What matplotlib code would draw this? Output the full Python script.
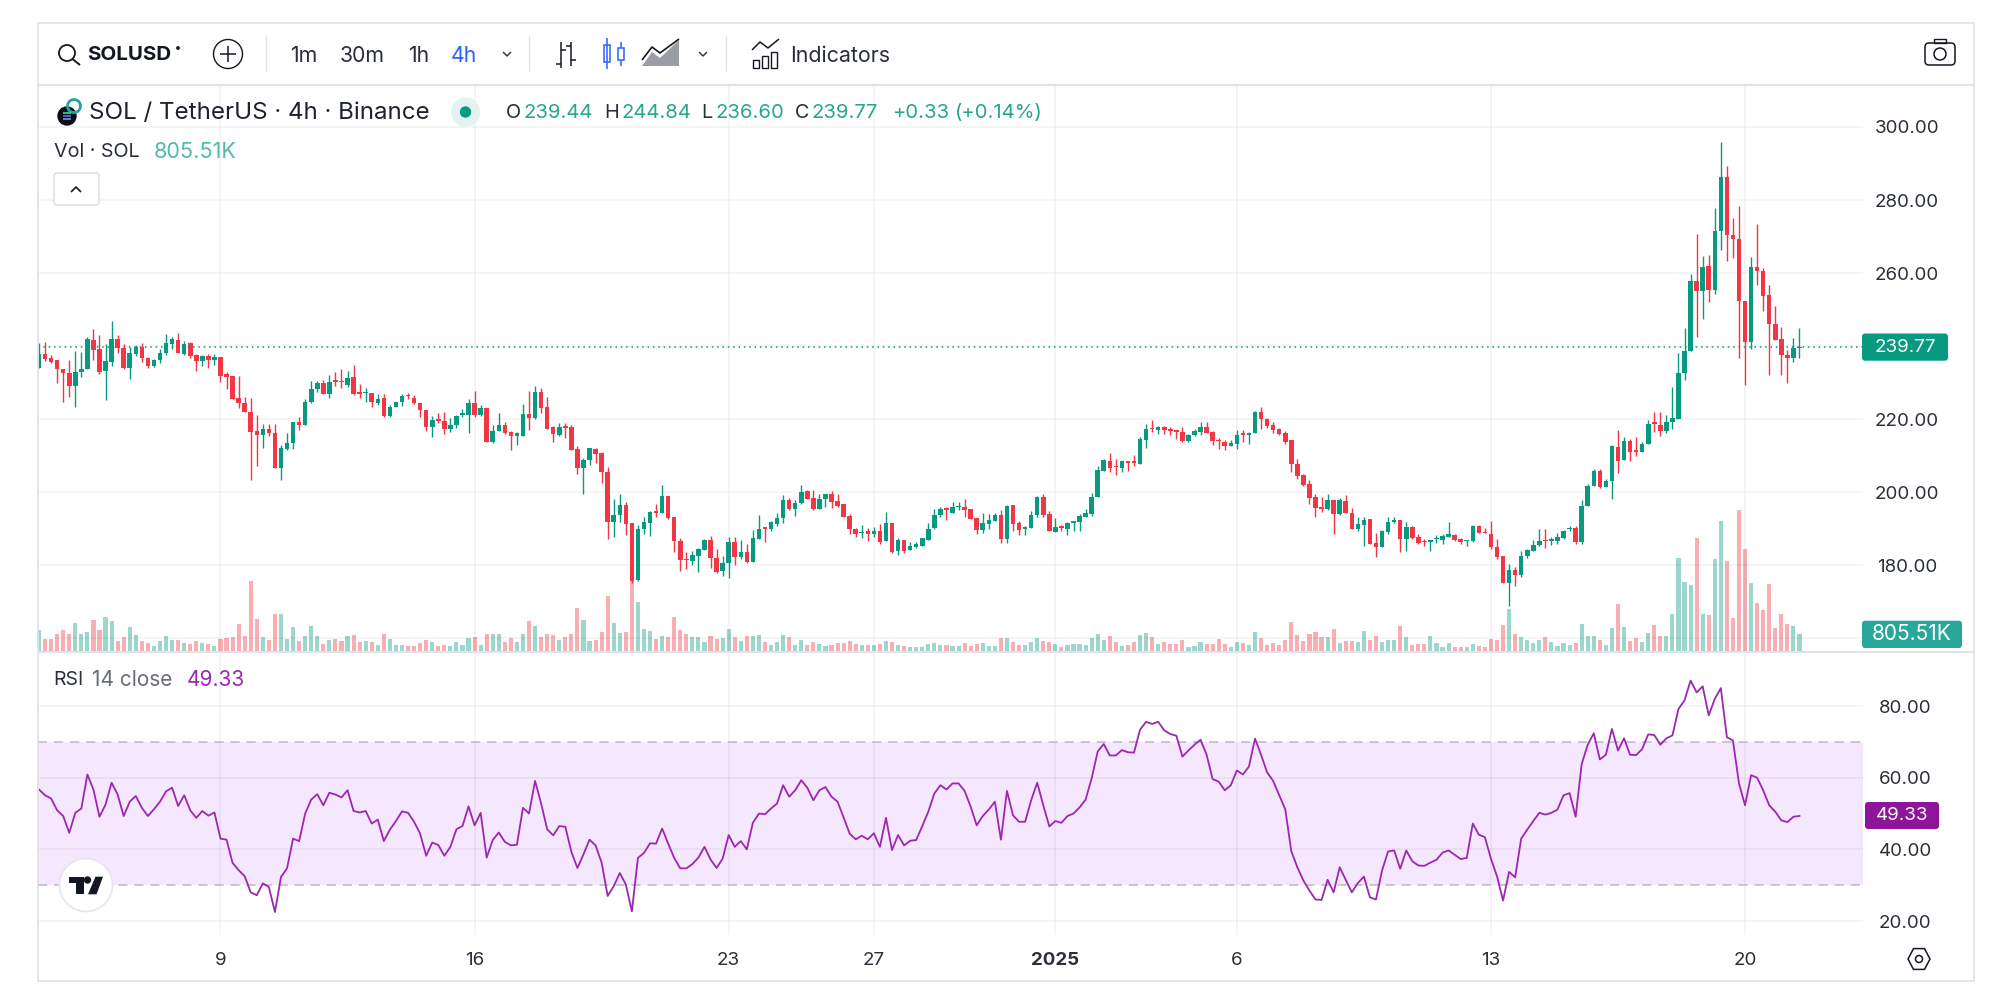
import numpy as np
import matplotlib
matplotlib.use("Agg")
import matplotlib.pyplot as plt
from matplotlib.patches import Circle, FancyBboxPatch, Polygon, Rectangle

plt.rcParams['font.family'] = ['Inter', 'DejaVu Sans']

# 4h candles, oldest first
opens = [
    233.9,237.7,236.7,236.1,233.8,232.7,229.0,232.8,233.7,241.6,
    239.1,233.1,235.7,241.8,239.5,233.9,237.8,239.8,236.8,234.6,
    236.2,238.2,240.5,241.6,237.8,240.7,237.5,235.9,237.4,236.3,
    237.1,232.3,231.7,225.8,224.4,221.9,216.7,215.7,217.4,216.3,
    206.5,211.8,213.5,219.3,218.4,224.7,228.1,229.8,227.0,230.6,
    230.4,229.4,231.4,227.4,227.1,227.2,224.4,225.7,220.9,223.4,
    224.8,226.6,225.8,224.4,222.6,217.9,219.9,219.5,217.2,218.4,
    221.0,221.1,224.3,221.1,223.1,213.8,216.8,218.5,216.4,215.4,
    215.4,221.5,220.3,227.5,223.4,217.7,215.6,218.2,217.9,211.7,
    206.5,208.8,211.8,210.6,205.5,191.8,193.7,196.4,191.5,175.9,
    189.8,191.6,194.8,194.2,198.9,193.1,186.7,181.8,181.2,182.6,
    184.2,186.9,182.0,178.3,180.6,186.3,182.1,183.7,180.8,187.2,
    190.4,189.9,191.3,192.8,197.8,195.3,196.9,200.3,198.3,195.5,
    198.1,199.4,197.5,196.7,193.5,189.9,188.7,189.3,188.5,189.3,
    186.7,191.4,183.9,187.0,184.1,184.9,185.2,187.0,190.1,193.7,
    195.6,194.4,195.8,196.0,195.3,192.8,189.6,191.2,192.1,193.7,
    187.1,196.4,191.4,190.0,190.1,193.6,198.6,193.9,189.2,190.7,
    190.0,191.4,191.8,193.2,193.9,198.6,205.9,208.6,207.1,206.6,
    208.5,208.5,207.8,214.4,217.6,217.0,217.9,217.2,217.0,216.5,
    214.0,215.5,216.5,217.9,216.5,214.4,213.7,212.7,213.3,216.3,
    215.6,216.1,221.8,220.0,218.4,217.4,216.1,214.2,207.7,204.8,
    202.2,198.6,196.0,195.3,197.8,193.9,197.6,194.4,189.8,191.0,
    192.5,186.0,185.0,189.2,191.9,192.3,187.1,190.5,187.7,186.7,
    186.4,187.1,186.8,187.8,188.2,187.2,186.5,186.6,190.7,189.1,
    188.6,185.0,182.4,175.1,178.7,177.2,182.4,184.0,185.4,187.0,
    186.7,186.6,187.3,189.8,190.1,186.4,196.2,201.7,205.9,201.5,
    202.9,212.4,208.7,214.1,211.4,211.0,213.2,219.1,218.4,216.7,
    219.2,220.1,232.6,238.6,257.7,255.0,261.8,255.3,271.5,286.2,
    270.3,269.2,252.4,241.2,261.7,260.5,253.9,246.1,242.0,237.6,236.7,239.44,
]
closes = [
    237.7,236.4,235.6,233.7,232.6,229.0,232.9,233.7,241.8,238.9,
    232.9,235.8,241.9,239.4,233.9,238.0,239.8,236.7,234.6,236.3,
    238.2,240.7,241.8,238.0,240.5,237.4,235.9,237.4,236.3,237.0,
    231.7,231.6,225.6,224.3,221.8,216.5,215.7,217.4,216.1,206.5,
    212.1,213.5,219.3,218.3,224.8,228.3,229.8,227.0,230.2,230.2,
    230.1,231.3,226.9,227.0,227.5,224.7,225.6,220.8,223.3,224.7,
    226.3,226.2,224.3,222.4,217.7,219.8,219.5,217.2,218.4,220.8,
    221.6,224.4,221.1,223.1,213.8,216.8,218.4,216.1,215.3,216.1,
    221.5,220.4,227.5,223.1,217.3,216.0,217.9,217.5,211.5,206.5,
    208.9,212.0,210.4,205.4,191.8,193.7,196.4,191.2,175.7,189.9,
    191.7,194.5,194.3,198.9,192.8,186.5,181.4,181.4,182.7,184.4,
    186.9,181.9,178.2,180.6,186.3,182.1,183.6,180.8,187.5,190.0,
    190.0,191.7,193.0,197.8,195.3,197.1,200.0,198.1,195.4,198.1,
    199.4,197.4,196.3,193.2,189.8,188.5,189.1,188.4,189.4,186.3,
    191.4,183.7,187.0,183.9,185.2,185.7,187.3,190.0,193.8,195.5,
    195.1,196.0,196.3,195.1,192.6,189.6,191.4,192.3,193.7,187.1,
    196.3,191.3,189.7,190.5,193.8,198.6,193.6,189.3,190.5,190.3,
    191.6,192.0,193.4,194.4,198.7,206.0,208.8,206.5,206.8,208.4,
    208.1,207.9,214.6,217.4,217.2,217.9,217.0,216.7,216.5,214.0,
    215.6,216.7,217.9,216.3,213.9,214.0,212.6,213.4,215.6,215.5,
    216.2,221.8,219.9,218.1,217.0,215.8,213.7,207.7,204.4,201.9,
    198.5,195.7,195.5,197.8,194.1,197.8,194.2,190.0,191.3,192.4,
    185.9,185.0,189.3,191.9,192.3,187.1,190.4,187.3,186.1,186.2,
    186.8,187.5,187.9,188.4,187.0,186.2,186.9,190.8,188.9,188.9,
    184.9,182.3,175.1,178.7,177.3,182.6,184.1,185.5,186.6,186.6,
    187.2,187.6,189.4,190.2,186.4,196.2,201.7,205.8,201.5,202.9,
    212.6,208.6,214.1,210.9,210.9,213.3,218.7,218.7,216.8,219.3,
    220.2,232.6,238.6,257.7,255.0,261.7,255.3,271.5,286.2,270.3,
    269.2,252.3,241.2,261.7,260.5,253.7,246.1,241.7,237.5,236.7,239.5,239.77,
]
highs = [
    240.7,241.0,237.5,236.1,233.8,236.2,238.6,238.3,242.4,244.7,
    243.0,240.5,246.9,243.0,240.5,239.8,240.2,240.7,236.9,236.5,
    239.2,243.3,242.6,243.7,241.5,241.1,237.7,237.5,237.8,237.7,
    237.1,232.9,231.7,231.8,226.1,225.7,221.0,218.6,218.6,218.6,
    212.8,216.3,219.3,220.5,225.5,230.3,230.5,230.7,232.1,233.0,
    233.6,233.2,234.7,229.6,228.5,227.2,227.0,226.8,223.8,224.8,
    227.0,227.2,226.7,224.5,222.6,220.8,221.7,221.9,220.2,221.2,
    222.7,225.5,227.8,223.9,223.1,218.3,221.6,219.2,216.7,216.4,
    224.0,227.7,229.0,228.6,226.1,218.2,219.0,219.0,218.4,212.6,
    209.2,212.1,212.0,211.0,206.9,198.2,199.6,197.3,191.5,191.0,
    193.2,194.9,196.6,201.9,198.9,193.2,187.5,183.7,183.9,184.8,
    187.1,188.0,184.3,182.5,187.6,187.8,186.9,185.7,189.6,193.6,
    190.4,192.1,194.2,199.2,198.5,197.8,201.9,200.7,200.7,199.5,
    199.6,200.2,199.6,196.7,194.0,190.2,191.0,190.2,190.5,191.2,
    194.5,191.4,187.5,187.0,186.3,186.4,187.5,191.4,195.5,196.0,
    195.9,197.4,197.4,198.0,195.5,192.8,194.4,193.9,194.2,195.0,
    196.5,196.5,192.1,190.7,194.9,198.9,199.4,194.9,192.8,190.9,
    191.9,192.2,193.9,195.4,199.8,207.1,209.1,210.6,209.1,208.6,
    208.5,210.2,215.2,218.6,219.7,218.1,218.1,217.9,217.0,217.7,
    215.8,217.2,219.1,219.1,216.7,214.7,214.3,214.4,217.0,217.0,
    216.5,222.3,223.4,220.4,219.2,217.6,216.8,214.4,209.1,205.0,
    203.3,199.5,198.6,199.5,197.8,198.4,199.1,195.6,193.1,193.3,
    192.7,188.9,189.6,193.1,193.1,192.3,191.9,190.7,188.6,187.2,
    186.9,188.3,188.4,191.9,188.5,187.5,187.0,191.0,190.9,190.1,
    192.2,187.1,182.4,180.2,179.5,183.8,184.3,186.8,189.9,189.9,
    187.7,188.7,189.6,190.6,190.6,197.8,202.3,206.2,206.3,203.6,
    212.8,217.0,215.2,214.5,215.2,213.7,219.7,222.0,221.8,221.0,
    228.7,238.1,244.9,259.8,270.7,264.7,264.9,277.9,295.8,289.4,
    275.2,278.3,252.4,264.3,273.3,261.4,256.7,250.9,245.2,238.8,242.1,244.84,
]
lows = [
    233.9,235.9,235.3,230.0,224.8,226.0,223.2,231.4,233.7,236.3,
    232.3,225.2,234.5,238.0,233.7,231.0,237.3,235.6,234.1,234.3,
    235.3,237.5,239.1,238.0,237.6,236.8,233.2,234.6,234.1,234.8,
    230.1,228.2,225.4,222.9,221.8,203.2,207.1,212.2,215.3,206.5,
    203.4,211.5,211.7,217.0,218.4,224.3,227.3,226.9,225.8,229.0,
    228.5,228.7,226.6,225.9,224.6,223.2,223.9,220.7,220.7,223.2,
    223.7,225.5,224.2,220.6,216.8,215.2,218.8,215.9,216.4,217.5,
    220.6,216.3,220.5,220.8,213.8,213.5,216.8,216.0,211.5,212.9,
    215.4,217.1,219.9,221.7,217.3,213.6,215.3,214.9,211.5,204.9,
    199.4,207.4,207.9,202.6,187.1,187.8,191.9,188.2,175.0,175.7,
    188.4,188.0,193.2,194.2,192.5,183.5,178.4,178.8,180.1,178.2,
    184.2,179.3,177.9,177.0,176.6,180.0,181.8,180.6,180.8,187.2,
    186.2,189.4,190.7,191.6,195.1,193.4,196.7,198.1,195.1,195.3,
    196.0,195.7,196.0,193.1,188.4,187.8,187.5,186.6,187.6,185.8,
    186.7,183.2,182.9,183.2,184.1,184.6,185.2,186.9,189.9,193.1,
    192.3,194.2,195.0,193.1,192.5,188.5,188.9,190.0,192.0,186.1,
    186.1,189.4,188.3,188.2,190.1,193.1,193.3,189.3,189.1,189.4,
    188.2,189.3,189.3,193.1,193.4,198.6,205.7,205.6,204.7,205.4,
    205.8,207.1,207.8,212.2,216.5,215.8,215.8,215.6,214.5,213.6,
    213.8,215.4,215.6,216.1,213.0,211.7,211.4,212.6,211.7,213.7,
    213.2,216.1,217.4,217.5,216.3,215.6,213.1,205.6,203.7,201.8,
    196.7,193.3,194.5,195.1,188.4,193.6,194.2,190.0,189.3,185.2,
    185.9,182.1,185.0,188.4,191.4,183.7,184.0,187.1,185.8,185.1,
    184.0,186.1,185.9,187.6,186.7,185.9,185.3,186.2,188.7,188.7,
    184.5,181.7,175.1,168.9,174.3,176.7,181.9,183.8,185.2,184.7,
    185.5,185.9,187.1,189.4,185.9,185.7,196.2,201.7,201.2,201.5,
    198.2,205.3,208.7,208.5,209.8,211.0,213.2,216.4,215.4,216.3,
    217.3,220.1,230.6,238.6,242.6,247.3,252.0,254.2,266.4,263.2,
    264.1,236.7,229.4,239.1,256.7,249.7,232.0,241.7,232.0,229.9,235.5,236.60,
]
# volume in thousands of SOL
volumes = [
    995,597,597,842,1025,842,1331,842,918,1484,
    995,1622,1423,520,673,1148,765,520,413,291,
    490,734,566,566,398,383,520,413,383,291,
    597,643,704,1270,734,3274,1499,673,551,1729,
    1760,597,1132,490,734,1178,750,352,566,612,
    520,719,780,459,490,459,337,826,597,337,
    337,260,260,413,566,459,260,337,260,444,
    306,627,689,337,826,811,811,444,658,444,
    842,1423,1209,689,811,765,551,689,842,2020,
    1469,505,551,918,2570,1346,887,918,3600,2310,
    1040,949,597,734,673,1607,995,826,673,689,
    474,734,597,643,1071,673,505,734,734,765,
    444,321,444,765,689,321,551,321,444,367,
    275,321,413,413,505,367,321,321,321,367,
    505,444,321,275,230,230,230,367,398,321,
    321,275,275,398,291,367,398,275,275,627,
    627,444,321,321,474,627,505,444,352,245,
    321,352,352,321,627,842,551,719,444,291,
    321,444,796,872,673,367,444,367,367,536,
    245,275,474,367,367,581,352,245,444,398,
    321,933,658,321,398,321,536,1362,765,505,
    842,903,704,689,1056,398,490,505,474,979,
    536,750,474,536,536,1193,689,321,352,352,
    719,398,245,398,245,245,245,352,275,245,
    587,555,1221,1983,809,682,539,428,555,698,
    460,285,397,317,428,1285,745,745,539,333,
    1094,2220,1142,523,634,476,872,1253,714,714,
    1760,4314,3220,3093,5266,1729,1697,4282,6011,4171,
    1586,6534,4758,3156,2268,1951,3124,1094,1760,1300,1190,805.51,
]
rsi = [
    56.7,55.1,54.2,50.9,49.3,44.6,50.2,51.4,60.9,56.7,
    49.1,52.5,58.6,55.3,49.3,53.3,54.9,51.6,49.3,51.2,
    53.3,56.2,57.2,52.1,55.1,50.9,48.8,50.7,49.4,50.3,
    43.0,42.7,36.2,34.2,32.5,28.0,27.2,30.5,29.5,22.5,
    32.3,34.7,43.0,42.3,50.0,53.9,55.4,52.3,55.8,55.3,
    54.5,56.5,50.7,50.3,50.7,47.2,48.3,42.3,45.5,47.9,
    50.6,50.2,47.7,44.4,38.2,41.9,41.2,38.2,40.7,45.6,
    46.5,52.0,46.7,50.2,37.7,42.6,44.7,42.1,41.1,41.3,
    51.6,50.0,59.1,52.8,45.6,43.9,46.5,46.3,39.3,34.8,
    38.6,42.7,41.1,36.3,27.0,29.7,33.4,30.2,22.7,37.6,
    39.0,41.7,41.6,45.8,41.6,37.6,34.7,34.7,35.9,37.7,
    40.7,37.2,34.8,37.4,44.0,40.7,42.3,40.0,47.4,50.0,
    49.8,51.4,52.8,57.9,54.7,56.5,59.3,57.2,53.7,56.5,
    57.4,54.7,53.3,48.9,44.4,42.8,43.8,42.8,44.5,40.7,
    48.8,39.8,44.0,41.1,42.4,42.6,46.5,50.5,55.6,57.9,
    56.7,58.4,58.4,56.3,51.9,46.7,49.3,51.1,53.3,42.7,
    56.3,49.5,47.7,47.7,53.7,58.6,52.3,46.4,47.9,47.4,
    49.3,50.0,51.7,53.9,59.8,67.3,69.4,66.2,66.2,67.7,
    67.1,67.0,73.4,75.6,75.0,75.6,73.2,72.2,71.7,65.9,
    67.6,69.2,70.6,66.4,59.6,58.9,56.5,57.9,62.0,60.9,
    63.1,70.9,66.4,61.5,59.1,55.1,51.2,39.5,35.0,31.3,
    28.5,26.0,25.9,31.5,28.0,35.0,31.5,28.0,30.6,32.4,
    26.6,26.0,34.1,39.4,39.7,34.6,39.7,36.7,35.5,35.4,
    36.3,37.1,39.1,39.7,38.5,37.3,37.6,47.2,44.1,43.4,
    37.4,32.5,25.7,33.7,32.2,43.0,45.5,47.9,50.2,49.7,
    50.2,51.1,55.1,55.7,49.1,63.8,69.2,72.4,65.1,66.4,
    73.6,67.6,71.0,66.4,66.3,68.0,72.1,71.9,69.2,71.0,
    71.8,79.2,81.6,87.1,83.8,85.5,77.4,82.0,85.0,71.3,
    70.4,58.4,52.3,60.7,60.0,56.5,52.3,50.5,48.1,47.6,49.1,49.33,
]
date_ticks = [30, 72, 114, 138, 168, 198, 240, 282]
date_labels = ['9', '16', '23', '27', '2025', '6', '13', '20']
price_ticks = [160, 180, 200, 220, 240, 260, 280, 300]
rsi_ticks = [20, 40, 60, 80]
rsi_band = (30, 70)

GREEN = '#089981'
RED = '#F23645'
PURPLE = '#9C27B0'
TEXT = '#2A2E39'
BORDER = '#E0E3EB'
W, H = 1999, 996


def px_axes(fig, x0, y0, x1, y1, **kw):
    """Axes placed by reference pixel box (y measured from the top)."""
    return fig.add_axes([x0 / W, 1 - y1 / H, (x1 - x0) / W, (y1 - y0) / H], **kw)


def style_axes(ax, xlim, ylim):
    ax.set_xlim(*xlim)
    ax.set_ylim(*ylim)
    ax.patch.set_alpha(0)
    for s in ax.spines.values():
        s.set_visible(False)
    ax.tick_params(length=0)
    ax.set_axisbelow(True)
    ax.grid(True, color='black', alpha=0.05, lw=1.1)


fig = plt.figure(figsize=(W / 100, H / 100), dpi=100, facecolor='white')
idx = np.arange(len(closes))
up = np.array(closes) >= np.array(opens)
colors = [GREEN if u else RED for u in up]
xlim = (-0.165, 301.5)

# volume sits behind the price pane
vol_ax = px_axes(fig, 38, 85, 1863, 652, zorder=1)
style_axes(vol_ax, xlim, (0, 567 * 46))
vol_ax.grid(False)
vol_ax.set_xticks([])
vol_ax.set_yticks([])
vol_ax.bar(idx, volumes, width=0.68, color=colors, alpha=0.4, linewidth=0)

price_ax = px_axes(fig, 38, 85, 1863, 652, zorder=2)
style_axes(price_ax, xlim, (156.2, 311.5))
price_ax.set_xticks(date_ticks)
price_ax.tick_params(axis='x', labelbottom=False)
price_ax.set_yticks(price_ticks)
price_ax.set_yticklabels(['' if p == 160 else f'{p:.2f}' for p in price_ticks])
price_ax.yaxis.tick_right()
price_ax.tick_params(axis='y', pad=31.5, labelsize=13.5, labelcolor=TEXT)
for t in price_ax.yaxis.get_major_ticks():
    t.label2.set_ha('center')
price_ax.axhline(closes[-1], color=GREEN, lw=1.1, ls=(0, (1, 2.5)))
price_ax.vlines(idx, lows, highs, colors=colors, lw=1.0)
price_ax.bar(idx, np.abs(np.array(closes) - np.array(opens)),
             bottom=np.minimum(opens, closes), width=0.75, color=colors, linewidth=0)

rsi_ax = px_axes(fig, 38, 653, 1863, 935, zorder=2)
style_axes(rsi_ax, xlim, (16.1, 94.8))
rsi_ax.axhspan(*rsi_band, color='#F5E7FE', lw=0, zorder=0)
for level in rsi_band:
    rsi_ax.axhline(level, color='#BDB8C4', lw=1.1, ls=(0, (6, 4.5)), zorder=1)
rsi_ax.plot(idx, rsi, color=PURPLE, lw=1.3, zorder=3)
rsi_ax.set_xticks(date_ticks)
rsi_ax.set_xticklabels(date_labels)
rsi_ax.set_yticks(rsi_ticks)
rsi_ax.set_yticklabels([f'{r:.2f}' for r in rsi_ticks])
rsi_ax.yaxis.tick_right()
rsi_ax.tick_params(axis='y', pad=30.5, labelsize=13.5, labelcolor=TEXT)
rsi_ax.tick_params(axis='x', pad=12, labelsize=13.5, labelcolor=TEXT)
for t in rsi_ax.yaxis.get_major_ticks():
    t.label2.set_ha('center')
rsi_ax.get_xticklabels()[date_labels.index('2025')].set_fontweight('bold')

# toolbar, legends and badges, in reference pixels
ui = fig.add_axes([0, 0, 1, 1], zorder=5)
ui.set_xlim(0, W)
ui.set_ylim(H, 0)
ui.axis('off')


def label(x, y, s, size=13.5, color=TEXT, ha='left', **kw):
    ui.text(x, y, s, fontsize=size, color=color, ha=ha, va='center', **kw)


def line(xs, ys, color='#131722', lw=1.1):
    ui.plot(xs, ys, color=color, lw=lw, solid_capstyle='butt')


def badge(x0, y0, x1, y1, color, s, size=13.5):
    ui.add_patch(FancyBboxPatch((x0, y0), x1 - x0, y1 - y0, facecolor=color, edgecolor='none',
                                boxstyle='round,pad=0,rounding_size=3'))
    label((x0 + x1) / 2, (y0 + y1) / 2, s, size=size, color='white', ha='center')


ui.add_patch(Rectangle((38, 23), 1936, 958, facecolor='none', edgecolor=BORDER, lw=1.3))
line([38, 1974], [85, 85], BORDER, 1.5)
line([38, 1974], [652, 652], BORDER, 1.5)
for x in (266, 529, 726):
    line([x, x], [36, 71], BORDER, 1.0)

# search + symbol
ui.add_patch(Circle((67, 53), 8, fill=False, ec='#131722', lw=1.3))
line([72.5, 80], [59, 65], lw=1.4)
label(87, 55, 'SOLUSD', size=14.8, color='#131722', fontweight='bold')
ui.add_patch(Circle((178, 48), 1.2, color='#131722'))
ui.add_patch(Circle((228, 54), 14.5, fill=False, ec='#131722', lw=1.0))
line([228, 228], [46, 62])
line([220, 236], [54, 54])

for x, s, c in [(304, '1m', TEXT), (362, '30m', TEXT), (419, '1h', TEXT), (464, '4h', '#2962FF')]:
    label(x, 56, s, size=15.3, color=c, ha='center')
for x in (507, 703):
    line([x - 4, x, x + 4], [52, 56, 52], TEXT, 1.0)

# bar, candle and area chart icons
line([561, 561], [42, 68])
line([556, 561], [64, 64])
line([561, 566], [50, 50])
line([571, 571], [42, 66])
line([566, 571], [46, 46])
line([571, 576], [60, 60])
line([607, 607], [38, 69], '#2962FF')
ui.add_patch(Rectangle((604, 45), 6, 17, fill=False, ec='#2962FF', lw=1.1))
line([621, 621], [42, 66], '#2962FF')
ui.add_patch(Rectangle((618, 48), 6, 12, facecolor='white', ec='#2962FF', lw=1.1, zorder=3))
ui.add_patch(Polygon([(642, 66), (652, 52), (660, 58), (679, 40), (679, 66)], facecolor='#9A9DA6', ec='none'))
line([642, 652, 660, 679], [60, 47, 53, 39], '#131722', 1.2)

# indicators icon
line([752, 760, 768, 779], [50, 42, 48, 39], '#131722', 1.1)
for bx, by in [(753, 60), (762, 56), (771, 52)]:
    ui.add_patch(Rectangle((bx, by), 6, 68 - by, fill=False, ec='#131722', lw=1.0))
label(790, 56, 'Indicators', size=15.4)

# camera
ui.add_patch(FancyBboxPatch((1925, 43), 30, 22, boxstyle='round,pad=0,rounding_size=4',
                            fill=False, ec='#131722', lw=1.1))
ui.add_patch(Rectangle((1934, 39), 12, 4, fill=False, ec='#131722', lw=1.0))
ui.add_patch(Circle((1940, 54), 6, fill=False, ec='#131722', lw=1.1))

# legend row
ui.add_patch(Circle((67, 116), 9, color='#0B0E14'))
for dy, c in [(-3, '#14F195'), (0, '#7B61FF'), (3, '#4FA8E8')]:
    line([63, 71], [116 + dy, 116 + dy], c, 1.2)
ui.add_patch(Circle((74, 106), 6.5, fill=False, ec='#26A69A', lw=2))
label(89, 113, 'SOL / TetherUS · 4h · Binance', size=17.4, color='#1E222D')
ui.add_patch(Circle((465.5, 112), 14, color='#E3F3F0'))
ui.add_patch(Circle((465.5, 112), 5, color=GREEN))
for x, s in [(506, 'O'), (604, 'H'), (701, 'L'), (795, 'C')]:
    label(x, 113, s, size=14.3)
for x, s in [(524, '239.44'), (622, '244.84'), (716, '236.60'), (812, '239.77'), (892, '+0.33'), (955, '(+0.14%)')]:
    label(x, 113, s, size=14.6, color='#26A68C')

label(54, 152, 'Vol · SOL', size=14.2)
label(154, 152, '805.51K', size=15.6, color='#53B9A8')
ui.add_patch(FancyBboxPatch((54, 173), 45, 32, facecolor='white', ec=BORDER, lw=1.3,
                            boxstyle='round,pad=0,rounding_size=3'))
line([71, 76, 81], [192, 187, 192], '#131722', 1.2)

label(53.5, 680, 'RSI', size=14)
label(92, 680, '14 close', size=15, color='#6A6D78')
label(187, 680, '49.33', size=15, color=PURPLE)

# price scale badges
badge(1862, 333.5, 1948, 360.7, GREEN, '239.77')
badge(1862, 620.7, 1962, 648, '#2AA79B', '805.51K', size=15)
badge(1865, 802, 1939, 829, '#8E1599', '49.33')

# TradingView mark
ui.add_patch(Circle((86, 885), 26.5, facecolor='white', ec='#E4E6EE', lw=1.2))
ui.add_patch(Polygon([(68.7, 876.7), (84, 876.7), (84, 894.3), (75.7, 894.3), (75.7, 883.3), (68.7, 883.3)],
                     facecolor='#131722', ec='none'))
ui.add_patch(Circle((87.5, 880), 3, color='#131722'))
ui.add_patch(Polygon([(95.5, 876.7), (103, 876.7), (96.5, 894.3), (88, 894.3)], facecolor='#131722', ec='none'))

# settings hexagon
hx = 1919 + 11 * np.cos(np.pi / 3 * np.arange(6))
hy = 959 + 12 * np.sin(np.pi / 3 * np.arange(6))
ui.add_patch(Polygon(np.c_[hx, hy], fill=False, ec='#131722', lw=1.1))
ui.add_patch(Circle((1919, 959), 3.5, fill=False, ec='#131722', lw=1.1))

fig.savefig('out.png', dpi=100)
